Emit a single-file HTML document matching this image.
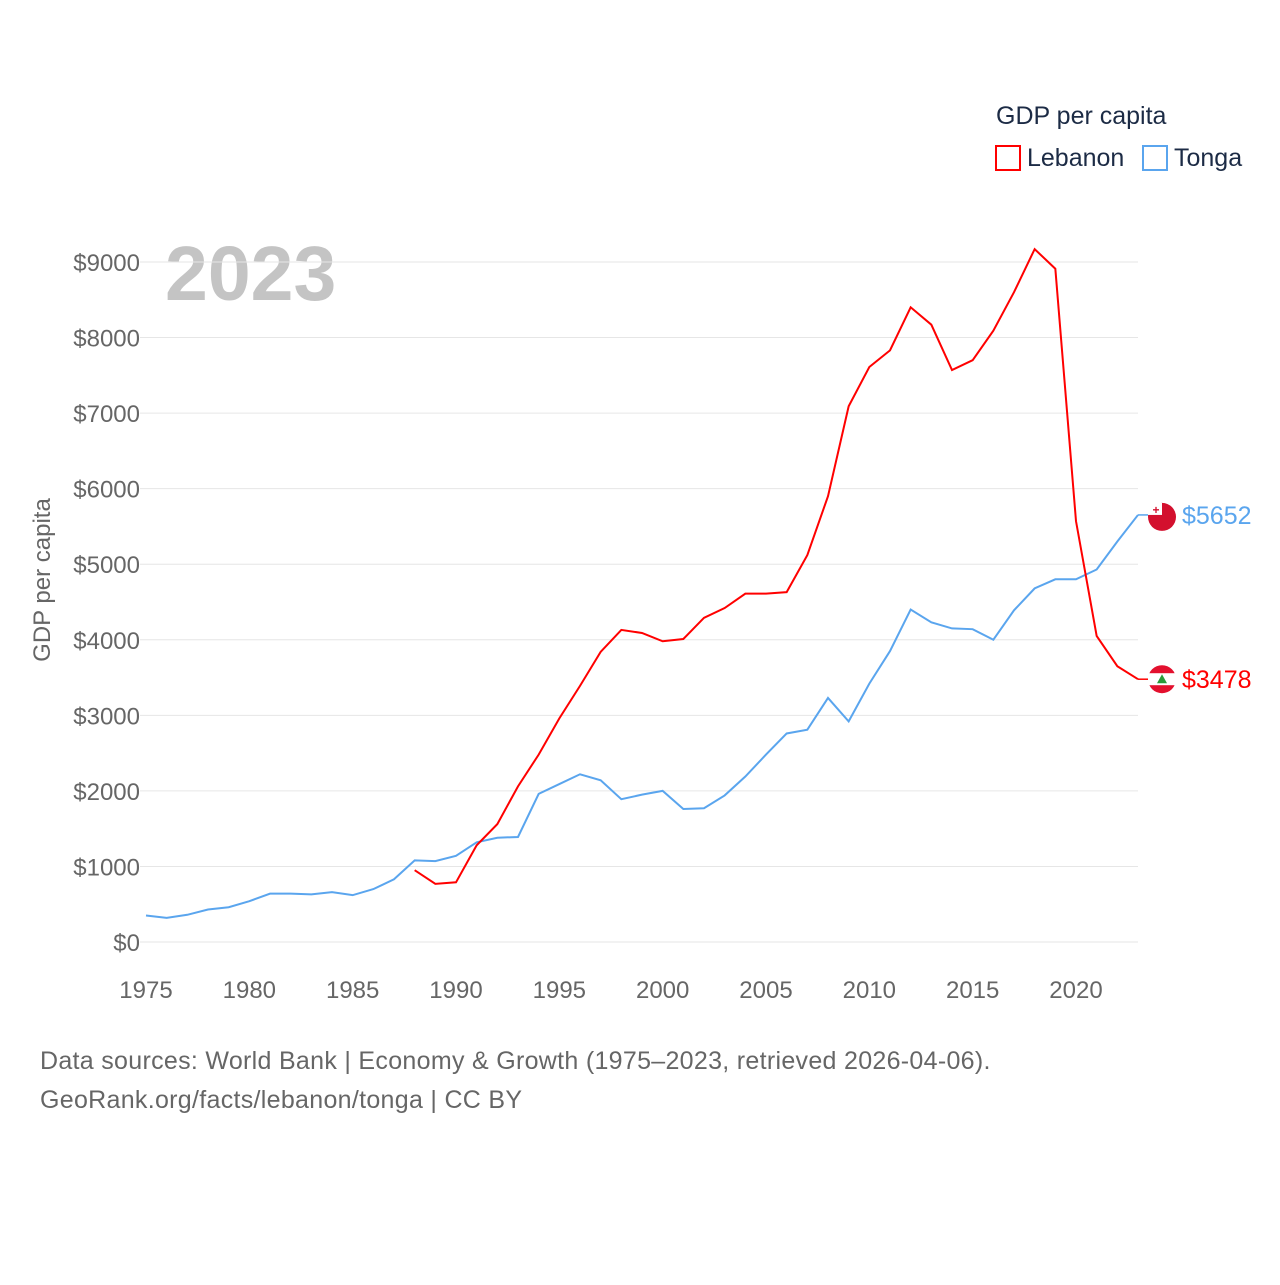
<!DOCTYPE html>
<html><head><meta charset="utf-8"><style>
body{margin:0;background:#fff;font-family:"Liberation Sans",sans-serif;}
svg text{font-family:"Liberation Sans",sans-serif;}
</style></head><body>
<svg id="chart" width="1280" height="1280" viewBox="0 0 1280 1280">
<text x="996" y="124" font-size="25" fill="#1c2b45">GDP per capita</text>
<rect x="996" y="146" width="24" height="24" fill="none" stroke="#ff0000" stroke-width="2"/>
<text x="1027" y="166" font-size="25" fill="#1c2b45">Lebanon</text>
<rect x="1143" y="146" width="24" height="24" fill="none" stroke="#5aa5ee" stroke-width="2"/>
<text x="1174" y="166" font-size="25" fill="#1c2b45">Tonga</text>
<text x="165" y="300" font-size="77" font-weight="bold" fill="#c4c4c4">2023</text>
<text transform="translate(50,580) rotate(-90)" text-anchor="middle" font-size="24" fill="#666">GDP per capita</text>
<g id="grid"></g><g id="xt"></g><g id="lines"></g>
<text x="40" y="1069" font-size="25" letter-spacing="0.3" fill="#666">Data sources: World Bank | Economy &amp; Growth (1975–2023, retrieved 2026-04-06).</text>
<text x="40" y="1108" font-size="25" letter-spacing="0.3" fill="#666">GeoRank.org/facts/lebanon/tonga | CC BY</text>
</svg>
<script>
const years=[];for(let y=1975;y<=2023;y++)years.push(y);
const tonga=[350,320,360,430,460,540,640,640,630,660,620,700,830,1080,1070,1140,1320,1380,1390,1960,2090,2220,2140,1890,1950,2000,1760,1770,1940,2190,2480,2760,2810,3230,2920,3420,3850,4400,4230,4150,4140,4000,4390,4680,4800,4800,4930,5300,5652];
const lebanonYears=[1988,1989,1990,1991,1992,1993,1994,1995,1996,1997,1998,1999,2000,2001,2002,2003,2004,2005,2006,2007,2008,2009,2010,2011,2012,2013,2014,2015,2016,2017,2018,2019,2020,2021,2022,2023];
const lebanon=[950,770,790,1280,1560,2060,2480,2960,3390,3840,4130,4090,3980,4010,4290,4420,4610,4610,4630,5120,5900,7090,7610,7830,8400,8170,7570,7700,8090,8600,9170,8910,5570,4050,3650,3478];
const yTicks=[0,1000,2000,3000,4000,5000,6000,7000,8000,9000];
const xTicks=[1975,1980,1985,1990,1995,2000,2005,2010,2015,2020];
const X=y=>146+(y-1975)*(930/45), Y=v=>942-v*0.07556;
const NS="http://www.w3.org/2000/svg";
function mk(t,a,p){const e=document.createElementNS(NS,t);for(const k in a)e.setAttribute(k,a[k]);p.appendChild(e);return e;}
const g=document.getElementById('grid');
yTicks.forEach(v=>{const l=mk('line',{x1:140,x2:1138,y1:Y(v),y2:Y(v),stroke:'#e6e6e6','stroke-width':1},g);


const t=mk('text',{x:140,y:Y(v)+9,'text-anchor':'end','font-size':24,fill:'#666'},g);t.textContent='$'+v;

});
const xt=document.getElementById('xt');
xTicks.forEach(v=>{const t=mk('text',{x:X(v),y:998,'text-anchor':'middle','font-size':24,fill:'#666'},xt);t.textContent=v;

});
const L=document.getElementById('lines');
const pt=mk('polyline',{points:years.map((y,i)=>X(y)+','+Y(tonga[i])).join(' '),fill:'none',stroke:'#5aa5ee','stroke-width':2},L);


const pl=mk('polyline',{points:lebanonYears.map((y,i)=>X(y)+','+Y(lebanon[i])).join(' '),fill:'none',stroke:'#ff0000','stroke-width':2},L);


function endLab(val,col,name,flag){const y=Y(val);
mk('line',{x1:1138,x2:1150,y1:y,y2:y,stroke:col,'stroke-width':1.5},L);
const c=mk('g',{},L);


if(flag==='to'){mk('circle',{cx:1162,cy:y+2,r:14,fill:'#d3102e'},c);mk('rect',{x:1148,y:y-12,width:14,height:12,fill:'#fff'},c);mk('text',{x:1156,y:y-1,'text-anchor':'middle','font-size':12,'font-weight':'bold',fill:'#d3102e'},c).textContent='+';}
else{mk('circle',{cx:1162,cy:y,r:14,fill:'#e3102e'},c);mk('rect',{x:1148,y:y-6,width:28,height:12,fill:'#fff'},c);mk('polygon',{points:`1162,${y-5} 1157,${y+4} 1167,${y+4}`,fill:'#2a9a3a'},c);}
const t=mk('text',{x:1182,y:y+9,'font-size':25,fill:col},L);t.textContent='$'+val;

}
endLab(tonga[tonga.length-1],'#5aa5ee','tonga','to');
endLab(lebanon[lebanon.length-1],'#ff0000','lebanon','lb');
</script>
</body></html>
